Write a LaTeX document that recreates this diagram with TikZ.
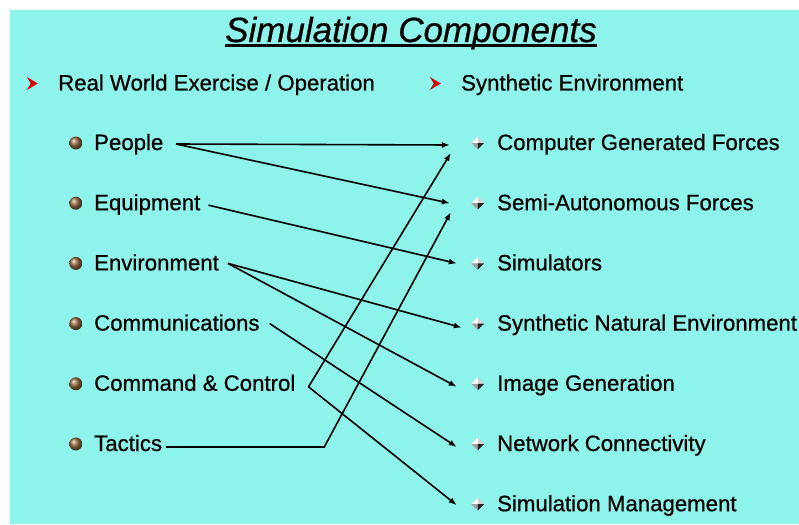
\documentclass[tikz,border=0pt]{standalone}
\usepackage{fontspec}
\setmainfont{Liberation Sans}[FakeBold=0.6]
\usepackage{xcolor}
\usepackage{tikz}
\usetikzlibrary{positioning,calc,shapes.geometric,arrows.meta}

\definecolor{sea}{RGB}{142,243,234}
\definecolor{pointred}{RGB}{215,0,0}
\definecolor{bronze}{RGB}{150,105,60}

\begin{document}
\begin{tikzpicture}[x=1pt, y=-1pt,
    item/.style={anchor=west, inner sep=0pt, text height=18pt, text depth=4pt,
      font=\fontsize{22.2}{26}\selectfont},
    redtick/.style={minimum width=11pt, minimum height=13pt, inner sep=0pt,
      path picture={\fill[pointred] (path picture bounding box.north west)
        -- (path picture bounding box.east) -- (path picture bounding box.south west)
        -- ([xshift=4pt]path picture bounding box.west) -- cycle;}},
    ball/.style={circle, minimum size=13pt, inner sep=0pt, shading=ball, ball color=bronze},
    gem/.style={diamond, minimum width=13pt, minimum height=13pt, inner sep=0pt,
      path picture={
        \fill[white] (path picture bounding box.center) -- (path picture bounding box.west) -- (path picture bounding box.north) -- cycle;
        \fill[gray!35] (path picture bounding box.center) -- (path picture bounding box.north) -- (path picture bounding box.east) -- cycle;
        \fill[gray!75] (path picture bounding box.center) -- (path picture bounding box.west) -- (path picture bounding box.south) -- cycle;
        \fill[black!85] (path picture bounding box.center) -- (path picture bounding box.south) -- (path picture bounding box.east) -- cycle;}},
    link/.style={line width=1.6pt, -{Latex[length=8pt,width=6pt]}}]

    \fill[white] (0,0) rectangle (799,524);
    \fill[sea] (10,10) rectangle (799,524);
    \useasboundingbox (0,0) rectangle (799,524);

    \node[anchor=base west, inner sep=0pt, font=\fontsize{35}{40}\selectfont\itshape] (title) at (225,42) {Simulation Components};
    \draw[line width=2.5pt] ([yshift=-3.5pt]title.base west) -- ([yshift=-3.5pt]title.base east);

    \node[item] (real) at (58,83.5) {Real World Exercise / Operation};
    \node[redtick, left=20pt of real] (m-real) {};
    \node[item] (synth) at (461,83.5) {Synthetic Environment};
    \node[redtick, left=20pt of synth] (m-synth) {};

    \node[item] (people) at (94,143) {People};
    \node[item] (equip) at ($(people.west)+(0,60.2)$) {Equipment};
    \node[item] (env) at ($(equip.west)+(0,60.2)$) {Environment};
    \node[item] (comms) at ($(env.west)+(0,60.2)$) {Communications};
    \node[item] (cc) at ($(comms.west)+(0,60.2)$) {Command \& Control};
    \node[item] (tactics) at ($(cc.west)+(0,60.2)$) {Tactics};
    \foreach \n in {people,equip,env,comms,cc,tactics}
      \node[ball, left=11.5pt of \n] (b-\n) {};

    \node[item] (cgf) at (497,143) {Computer Generated Forces};
    \node[item] (saf) at ($(cgf.west)+(0,60.2)$) {Semi-Autonomous Forces};
    \node[item] (sims) at ($(saf.west)+(0,60.2)$) {Simulators};
    \node[item] (sne) at ($(sims.west)+(0,60.2)$) {Synthetic Natural Environment};
    \node[item] (imgen) at ($(sne.west)+(0,60.2)$) {Image Generation};
    \node[item] (netcon) at ($(imgen.west)+(0,60.2)$) {Network Connectivity};
    \node[item] (simman) at ($(netcon.west)+(0,60.2)$) {Simulation Management};
    \foreach \n in {cgf,saf,sims,sne,imgen,netcon,simman}
      \node[gem, left=12.5pt of \n] (d-\n) {};

    \draw[link] ([xshift=12.5pt,yshift=-1pt]people.east) -- ([xshift=-28pt,yshift=-2pt]d-cgf.center);
    \draw[link] ([xshift=12.5pt,yshift=-1pt]people.east) -- ([xshift=-28pt]d-saf.center);
    \draw[link] ([xshift=8pt,yshift=-2pt]equip.east) -- ([xshift=-21pt]d-sims.center);
    \draw[link] ([xshift=9pt]env.east) -- ([xshift=-16pt,yshift=-4pt]d-sne.center);
    \draw[link] ([xshift=9pt]env.east) -- ([xshift=-21pt,yshift=-3pt]d-imgen.center);
    \draw[link] ([xshift=10pt]comms.east) -- ([xshift=-21pt,yshift=-3pt]d-netcon.center);
    \draw[link] ([xshift=13pt,yshift=-3pt]cc.east) -- ([xshift=-27pt,yshift=-10pt]d-cgf.center);
    \draw[link] ([xshift=13pt,yshift=-3pt]cc.east) -- ([xshift=-21pt,yshift=-1pt]d-simman.center);
    \draw[link] ([xshift=4pt,yshift=-3pt]tactics.east) -- ++(158,0) -- ([xshift=-27pt,yshift=-9pt]d-saf.center);
\end{tikzpicture}
\end{document}
